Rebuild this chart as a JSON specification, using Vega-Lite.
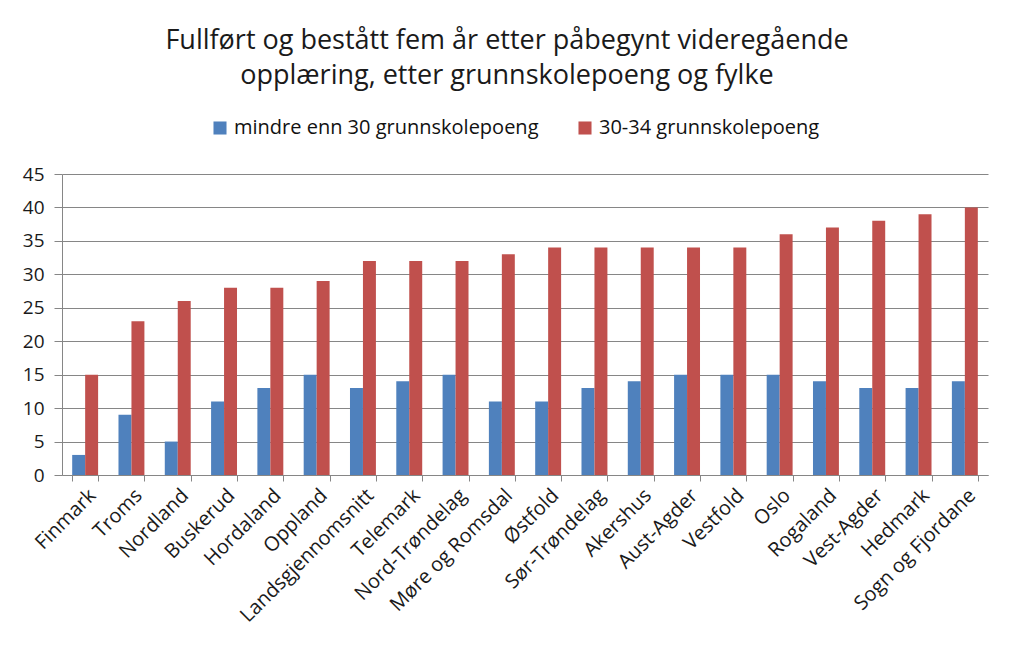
{
  "$schema": "https://vega.github.io/schema/vega-lite/v6.json",
  "width": 926,
  "height": 301,
  "autosize": {"type": "none"},
  "padding": {"left": 62, "top": 174, "right": 25, "bottom": 170},
  "background": "white",
  "title": {
    "text": ["Fullført og bestått fem år etter påbegynt videregående", "opplæring, etter grunnskolepoeng  og fylke"],
    "fontSize": 27,
    "fontWeight": "normal",
    "font": "Open Sans",
    "color": "#1a1a1a",
    "lineHeight": 35,
    "anchor": "middle",
    "dx": -18,
    "offset": 28
  },
  "data": {
    "values": [
      {"fylke": "Finmark", "gruppe": "mindre enn 30 grunnskolepoeng", "verdi": 3},
      {"fylke": "Finmark", "gruppe": "30-34 grunnskolepoeng", "verdi": 15},
      {"fylke": "Troms", "gruppe": "mindre enn 30 grunnskolepoeng", "verdi": 9},
      {"fylke": "Troms", "gruppe": "30-34 grunnskolepoeng", "verdi": 23},
      {"fylke": "Nordland", "gruppe": "mindre enn 30 grunnskolepoeng", "verdi": 5},
      {"fylke": "Nordland", "gruppe": "30-34 grunnskolepoeng", "verdi": 26},
      {"fylke": "Buskerud", "gruppe": "mindre enn 30 grunnskolepoeng", "verdi": 11},
      {"fylke": "Buskerud", "gruppe": "30-34 grunnskolepoeng", "verdi": 28},
      {"fylke": "Hordaland", "gruppe": "mindre enn 30 grunnskolepoeng", "verdi": 13},
      {"fylke": "Hordaland", "gruppe": "30-34 grunnskolepoeng", "verdi": 28},
      {"fylke": "Oppland", "gruppe": "mindre enn 30 grunnskolepoeng", "verdi": 15},
      {"fylke": "Oppland", "gruppe": "30-34 grunnskolepoeng", "verdi": 29},
      {"fylke": "Landsgjennomsnitt", "gruppe": "mindre enn 30 grunnskolepoeng", "verdi": 13},
      {"fylke": "Landsgjennomsnitt", "gruppe": "30-34 grunnskolepoeng", "verdi": 32},
      {"fylke": "Telemark", "gruppe": "mindre enn 30 grunnskolepoeng", "verdi": 14},
      {"fylke": "Telemark", "gruppe": "30-34 grunnskolepoeng", "verdi": 32},
      {"fylke": "Nord-Trøndelag", "gruppe": "mindre enn 30 grunnskolepoeng", "verdi": 15},
      {"fylke": "Nord-Trøndelag", "gruppe": "30-34 grunnskolepoeng", "verdi": 32},
      {"fylke": "Møre og Romsdal", "gruppe": "mindre enn 30 grunnskolepoeng", "verdi": 11},
      {"fylke": "Møre og Romsdal", "gruppe": "30-34 grunnskolepoeng", "verdi": 33},
      {"fylke": "Østfold", "gruppe": "mindre enn 30 grunnskolepoeng", "verdi": 11},
      {"fylke": "Østfold", "gruppe": "30-34 grunnskolepoeng", "verdi": 34},
      {"fylke": "Sør-Trøndelag", "gruppe": "mindre enn 30 grunnskolepoeng", "verdi": 13},
      {"fylke": "Sør-Trøndelag", "gruppe": "30-34 grunnskolepoeng", "verdi": 34},
      {"fylke": "Akershus", "gruppe": "mindre enn 30 grunnskolepoeng", "verdi": 14},
      {"fylke": "Akershus", "gruppe": "30-34 grunnskolepoeng", "verdi": 34},
      {"fylke": "Aust-Agder", "gruppe": "mindre enn 30 grunnskolepoeng", "verdi": 15},
      {"fylke": "Aust-Agder", "gruppe": "30-34 grunnskolepoeng", "verdi": 34},
      {"fylke": "Vestfold", "gruppe": "mindre enn 30 grunnskolepoeng", "verdi": 15},
      {"fylke": "Vestfold", "gruppe": "30-34 grunnskolepoeng", "verdi": 34},
      {"fylke": "Oslo", "gruppe": "mindre enn 30 grunnskolepoeng", "verdi": 15},
      {"fylke": "Oslo", "gruppe": "30-34 grunnskolepoeng", "verdi": 36},
      {"fylke": "Rogaland", "gruppe": "mindre enn 30 grunnskolepoeng", "verdi": 14},
      {"fylke": "Rogaland", "gruppe": "30-34 grunnskolepoeng", "verdi": 37},
      {"fylke": "Vest-Agder", "gruppe": "mindre enn 30 grunnskolepoeng", "verdi": 13},
      {"fylke": "Vest-Agder", "gruppe": "30-34 grunnskolepoeng", "verdi": 38},
      {"fylke": "Hedmark", "gruppe": "mindre enn 30 grunnskolepoeng", "verdi": 13},
      {"fylke": "Hedmark", "gruppe": "30-34 grunnskolepoeng", "verdi": 39},
      {"fylke": "Sogn og Fjordane", "gruppe": "mindre enn 30 grunnskolepoeng", "verdi": 14},
      {"fylke": "Sogn og Fjordane", "gruppe": "30-34 grunnskolepoeng", "verdi": 40}
    ]
  },
  "mark": {"type": "bar"},
  "encoding": {
    "x": {
      "field": "fylke",
      "type": "nominal",
      "sort": null,
      "scale": {"paddingInner": 0.44, "paddingOuter": 0.22},
      "axis": {
        "title": null,
        "labelAngle": -45,
        "labelAlign": "right",
        "labelBaseline": "top",
        "labelFontSize": 20,
        "labelFont": "Open Sans",
        "labelColor": "#1a1a1a",
        "labelPadding": 4,
        "tickBand": "extent",
        "tickSize": 6,
        "tickColor": "#868686",
        "domainColor": "#868686",
        "labelOverlap": false,
        "labelBound": false
      }
    },
    "xOffset": {
      "field": "gruppe",
      "type": "nominal",
      "sort": ["mindre enn 30 grunnskolepoeng", "30-34 grunnskolepoeng"]
    },
    "y": {
      "field": "verdi",
      "type": "quantitative",
      "scale": {"domain": [0, 45], "nice": false},
      "axis": {
        "title": null,
        "values": [0, 5, 10, 15, 20, 25, 30, 35, 40, 45],
        "labelFontSize": 19,
        "labelFont": "Open Sans",
        "labelColor": "#1a1a1a",
        "labelPadding": 10,
        "tickSize": 8,
        "tickColor": "#868686",
        "domainColor": "#868686",
        "gridColor": "#868686",
        "gridOpacity": 1
      }
    },
    "color": {
      "field": "gruppe",
      "type": "nominal",
      "sort": ["mindre enn 30 grunnskolepoeng", "30-34 grunnskolepoeng"],
      "scale": {"domain": ["mindre enn 30 grunnskolepoeng", "30-34 grunnskolepoeng"], "range": ["#4F81BD", "#C0504D"]},
      "legend": {
        "title": null,
        "orient": "none",
        "direction": "horizontal",
        "legendX": 148,
        "legendY": -56,
        "symbolType": "square",
        "symbolSize": 170,
        "symbolStrokeWidth": 0,
        "symbolOpacity": 1,
        "labelFontSize": 20,
        "labelFont": "Open Sans",
        "labelColor": "#111111",
        "labelOffset": 4,
        "columnPadding": 36,
        "labelLimit": 400
      }
    }
  },
  "config": {
    "view": {"stroke": null}
  }
}
